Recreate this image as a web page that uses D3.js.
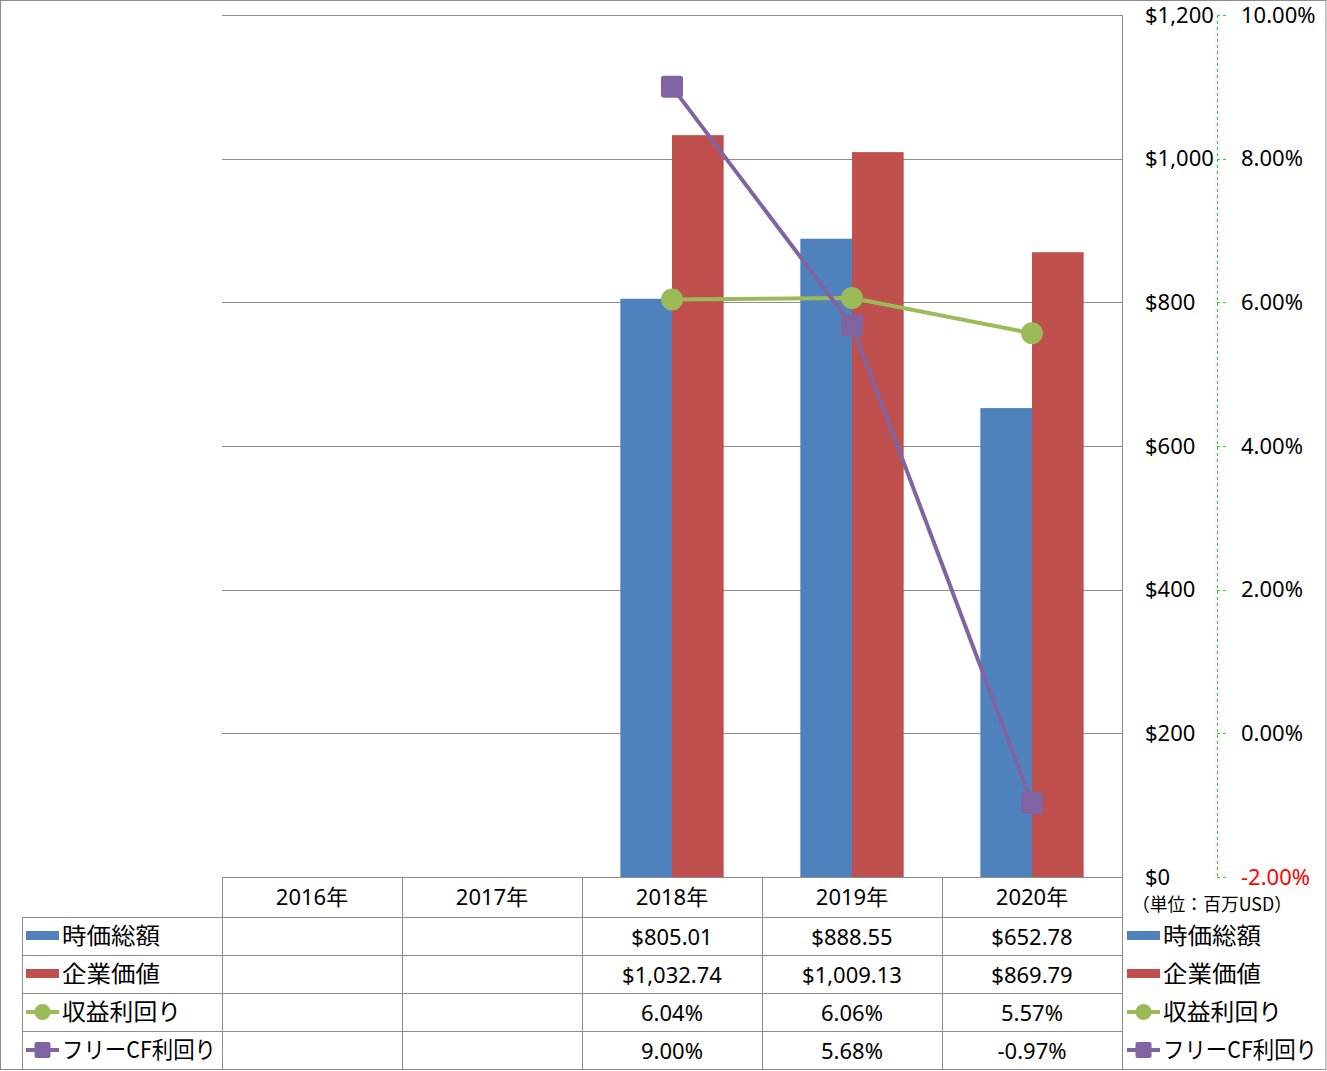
<!DOCTYPE html>
<html><head><meta charset="utf-8">
<script src="https://cdn.jsdelivr.net/npm/d3@7"></script>
<style>
body{margin:0;background:#fff;}
svg{display:block;font-family:"Noto Sans","Noto Sans CJK JP",sans-serif;}
</style></head><body>
<script>
const categories = ["2016年","2017年","2018年","2019年","2020年"];
const marketCap = [null,null,805.01,888.55,652.78];
const enterpriseValue = [null,null,1032.74,1009.13,869.79];
const earningsYield = [null,null,6.04,6.06,5.57];
const fcfYield = [null,null,9.00,5.68,-0.97];
const leftTicks = [0,200,400,600,800,1000,1200];
const rightTicks = [-2,0,2,4,6,8,10];
const seriesNames = ["時価総額","企業価値","収益利回り","フリーCF利回り"];
const unitLabel = "（単位：百万USD）";

const W=1327,H=1071;
const svg=d3.select("body").append("svg").attr("width",W).attr("height",H);
const plotL=222,plotR=1122,plotT=15,plotB=877;
const x=d3.scaleBand().domain(categories).range([plotL,plotR]);
const y=d3.scaleLinear().domain([0,1200]).range([plotB,plotT]);
const y2=d3.scaleLinear().domain([-2,10]).range([plotB,plotT]);
const grid="#8c8c8c";
const colors=["#4F81BD","#C0504D","#9BBB59","#8064A2"];
const jp="'Noto Sans CJK JP',sans-serif";
const loc=d3.formatLocale({decimal:".",thousands:",",grouping:[3],currency:["$",""],minus:"-"});

// outer border
svg.append("rect").attr("x",0.5).attr("y",0.5).attr("width",W-1.5).attr("height",H-2).attr("fill","none").attr("stroke",grid);

// gridlines
svg.append("g").selectAll("line").data(leftTicks.filter(d=>d>0)).join("line")
 .attr("x1",plotL).attr("x2",plotR).attr("y1",d=>Math.round(y(d))+0.5).attr("y2",d=>Math.round(y(d))+0.5)
 .attr("stroke",grid).attr("stroke-width",1);

// bars
const bw=x.bandwidth()*0.287;
const barData=[];
categories.forEach((c,i)=>{
  if(marketCap[i]!=null) barData.push({c,v:marketCap[i],k:0});
  if(enterpriseValue[i]!=null) barData.push({c,v:enterpriseValue[i],k:1});
});
svg.append("g").selectAll("rect").data(barData).join("rect")
 .attr("x",d=>x(d.c)+x.bandwidth()/2+(d.k===0?-bw:0))
 .attr("width",bw).attr("y",d=>y(d.v)).attr("height",d=>plotB-y(d.v))
 .attr("fill",d=>colors[d.k]);

// lines
const cx=c=>x(c)+x.bandwidth()/2;
function lineSeries(vals,color){
  const pts=categories.map((c,i)=>({c,v:vals[i]})).filter(d=>d.v!=null);
  svg.append("path").datum(pts).attr("fill","none").attr("stroke",color).attr("stroke-width",4)
   .attr("stroke-linejoin","round")
   .attr("d",d3.line().x(d=>cx(d.c)).y(d=>y2(d.v)));
  return pts;
}
const g1=lineSeries(earningsYield,colors[2]);
const g2=lineSeries(fcfYield,colors[3]);
svg.append("g").selectAll("circle").data(g1).join("circle")
 .attr("cx",d=>cx(d.c)).attr("cy",d=>y2(d.v)).attr("r",11).attr("fill",colors[2]);
svg.append("g").selectAll("rect").data(g2).join("rect")
 .attr("x",d=>cx(d.c)-11).attr("y",d=>y2(d.v)-11).attr("width",22).attr("height",22).attr("rx",3)
 .attr("fill",colors[3]);

// primary axis labels (drawn on right side, left-aligned)
svg.append("g").selectAll("text").data(leftTicks).join("text")
 .attr("x",1145).attr("y",d=>y(d)).attr("dy","0.35em").attr("text-anchor","start")
 .attr("font-size",22).attr("fill","#000")
 .text(d=>"$"+loc.format(",")(d));

// secondary axis
const ax2=svg.append("g");
ax2.append("line").attr("x1",1217.5).attr("x2",1217.5).attr("y1",plotT).attr("y2",plotB)
 .attr("stroke","#22dd22").attr("stroke-dasharray","3,3");
ax2.selectAll("line.t").data(rightTicks).join("line").attr("class","t")
 .attr("x1",1217).attr("x2",1226).attr("y1",d=>Math.round(y2(d))+0.5).attr("y2",d=>Math.round(y2(d))+0.5)
 .attr("stroke","#22dd22").attr("stroke-dasharray","3,3");
ax2.selectAll("text").data(rightTicks).join("text")
 .attr("x",1241).attr("y",d=>y2(d)).attr("dy","0.35em").attr("font-size",22)
 .attr("fill",d=>d<0?"#ff0000":"#000")
 .text(d=>loc.format(".2f")(d)+"%");

svg.append("text").attr("x",1132).attr("y",905).attr("dy","0.35em").attr("font-size",18)
 .attr("font-family",jp).attr("textLength",160).attr("lengthAdjust","spacingAndGlyphs").text(unitLabel);

// table
const tb=svg.append("g");
const rowY=[877,917,955,993,1031,1069];
function L(x1,y1,x2,y2){tb.append("line").attr("x1",x1).attr("y1",y1).attr("x2",x2).attr("y2",y2).attr("stroke",grid);}
L(plotR+0.5,plotT,plotR+0.5,1069);
L(plotL,plotT+0.5,plotR,plotT+0.5);
L(222.5,877,222.5,1069);
[402,582,762,942].forEach(cx=>L(cx+0.5,877,cx+0.5,1069));
L(22.5,917,22.5,1069);
L(222,877.5,1122,877.5);
[917,955,993,1031].forEach(r=>L(22,r+0.5,1122,r+0.5));

categories.forEach((c,i)=>{
  tb.append("text").attr("x",x(c)+x.bandwidth()/2).attr("y",897).attr("dy","0.35em")
   .attr("text-anchor","middle").attr("font-size",22).text(c);
});
const fmtD=v=>v==null?"":"$"+loc.format(",.2f")(v);
const fmtP=v=>v==null?"":loc.format(".2f")(v)+"%";
const rows=[marketCap.map(fmtD),enterpriseValue.map(fmtD),earningsYield.map(fmtP),fcfYield.map(fmtP)];
rows.forEach((r,ri)=>{
  const yc=(rowY[ri+1]+rowY[ri+2])/2;
  r.forEach((t,ci)=>{
    tb.append("text").attr("x",x(categories[ci])+x.bandwidth()/2).attr("y",yc+1).attr("dy","0.35em")
     .attr("text-anchor","middle").attr("font-size",22).text(t);
  });
});

// legend entries (left in table & right)
const labelLen=[98,98,119,154];
function legend(x0,textX){
  seriesNames.forEach((n,i)=>{
    const yc=(rowY[i+1]+rowY[i+2])/2;
    if(i<2){
      tb.append("rect").attr("x",x0).attr("y",yc-5).attr("width",33).attr("height",9).attr("fill",colors[i]);
    } else {
      tb.append("line").attr("x1",x0).attr("x2",x0+33).attr("y1",yc).attr("y2",yc).attr("stroke",colors[i]).attr("stroke-width",4);
      if(i===2) tb.append("circle").attr("cx",x0+16.5).attr("cy",yc).attr("r",8).attr("fill",colors[i]);
      else tb.append("rect").attr("x",x0+8.5).attr("y",yc-8).attr("width",16).attr("height",16).attr("rx",2).attr("fill",colors[i]);
    }
    tb.append("text").attr("x",textX).attr("y",yc).attr("dy","0.35em").attr("font-size",23)
     .attr("font-family",jp).attr("textLength",labelLen[i]).attr("lengthAdjust","spacingAndGlyphs").text(n);
  });
}
legend(26,62);
legend(1127,1163);
</script>
</body></html>
